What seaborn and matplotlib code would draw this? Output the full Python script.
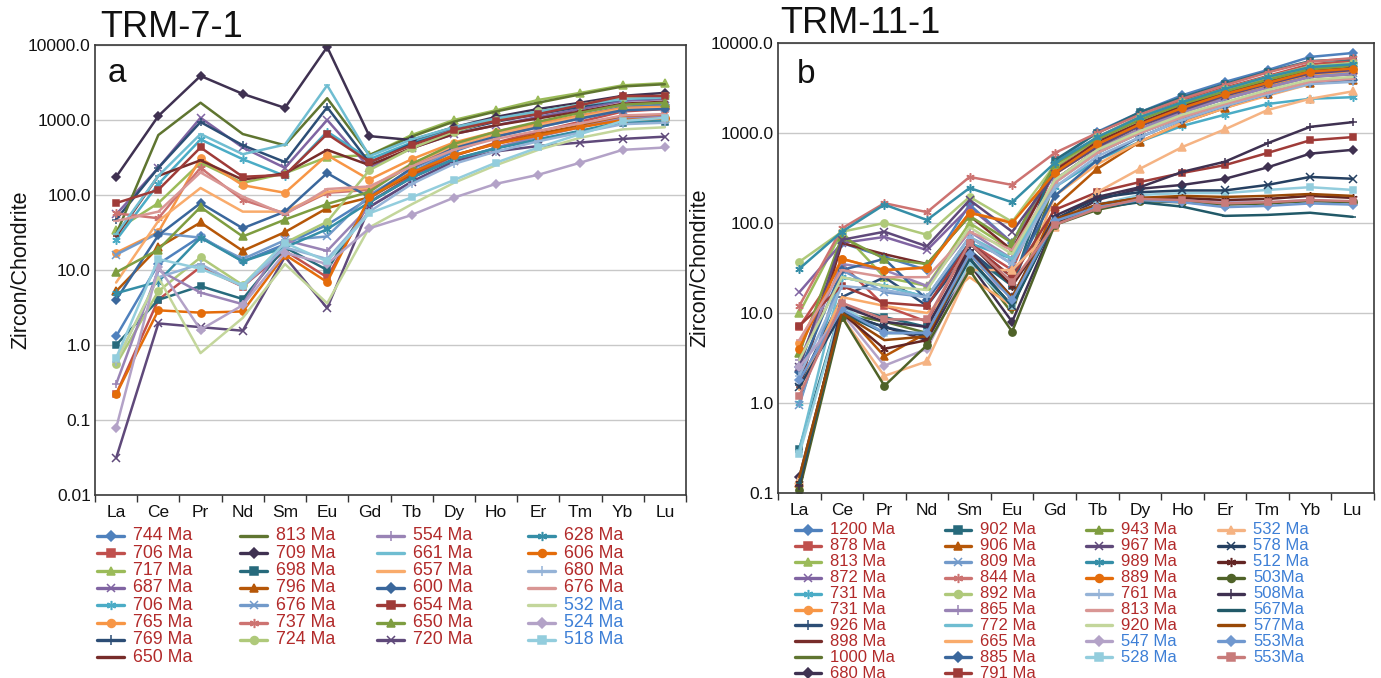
import numpy as np
import matplotlib
matplotlib.use("Agg")
import matplotlib.pyplot as plt
import seaborn as sns
from matplotlib.lines import Line2D
from matplotlib.ticker import NullLocator, FixedLocator

# ---------------- data ----------------
ELEMENTS = ["La", "Ce", "Pr", "Nd", "Sm", "Eu", "Gd", "Tb", "Dy", "Ho", "Er", "Tm", "Yb", "Lu"]

A_TITLE = "TRM-7-1"
A_LABELS = ["744 Ma", "706 Ma", "717 Ma", "687 Ma", "706 Ma", "765 Ma", "769 Ma", "650 Ma",
            "813 Ma", "709 Ma", "698 Ma", "796 Ma", "676 Ma", "737 Ma", "724 Ma",
            "554 Ma", "661 Ma", "657 Ma", "600 Ma", "654 Ma", "650 Ma", "720 Ma",
            "628 Ma", "606 Ma", "680 Ma", "676 Ma", "532 Ma", "524 Ma", "518 Ma"]
A_BLUE_LABELS = [False] * 26 + [True] * 3
A_VALUES = [
    [1.3, 12, 28, 13, 22, 40, 90, 200, 380, 600, 850, 1150, 1500, 1600],
    [0.22, 4, 11, 6, 18, 8, 80, 180, 330, 500, 700, 950, 1300, 1400],
    [34, 78, 270, 145, 195, 320, 340, 630, 1000, 1350, 1850, 2300, 2900, 3100],
    [55, 230, 1070, 430, 230, 1000, 230, 420, 650, 850, 1100, 1400, 1800, 1900],
    [25, 140, 550, 300, 180, 700, 300, 500, 750, 1000, 1250, 1550, 1900, 2000],
    [17, 32, 310, 135, 107, 340, 160, 300, 500, 700, 900, 1150, 1450, 1500],
    [47, 230, 940, 460, 275, 1480, 270, 480, 700, 950, 1200, 1500, 1900, 2000],
    [28, 180, 290, 160, 195, 400, 250, 420, 650, 850, 1050, 1300, 1650, 1750],
    [30, 630, 1700, 650, 460, 1950, 340, 600, 950, 1300, 1700, 2200, 2800, 3000],
    [174, 1130, 3870, 2230, 1450, 9400, 610, 540, 800, 1100, 1400, 1700, 2100, 2300],
    [1.0, 4, 6.1, 4.1, 20, 10, 80, 170, 300, 420, 550, 700, 900, 950],
    [5.2, 20, 43, 18, 32, 67, 93, 190, 340, 480, 650, 850, 1100, 1150],
    [16, 31, 27, 14, 25, 28, 100, 220, 400, 600, 800, 1050, 1350, 1450],
    [57, 49, 230, 86, 57, 107, 117, 250, 450, 650, 850, 1100, 1400, 1450],
    [0.55, 5.2, 14.7, 6.3, 23, 44, 215, 420, 700, 1000, 1300, 1600, 2000, 2100],
    [0.3, 10, 5, 3.5, 25, 18, 70, 150, 280, 430, 600, 800, 1050, 1100],
    [30, 180, 650, 350, 470, 2900, 330, 550, 800, 1050, 1300, 1600, 1900, 2000],
    [6.8, 45, 124, 60, 60, 110, 125, 260, 450, 650, 850, 1100, 1400, 1450],
    [4, 29, 78, 36, 60, 196, 93, 230, 420, 600, 800, 1050, 1350, 1400],
    [78, 117, 430, 175, 185, 650, 275, 460, 735, 970, 1200, 1580, 2090, 2090],
    [9.3, 18.7, 69, 28, 47, 76, 110, 260, 480, 700, 950, 1250, 1600, 1700],
    [0.031, 1.94, 1.73, 1.55, 15, 3.1, 69, 150, 280, 380, 450, 500, 560, 600],
    [4.9, 7, 27, 13, 20, 35, 80, 170, 300, 420, 550, 720, 950, 1000],
    [0.22, 2.9, 2.7, 2.8, 16, 6.9, 93, 200, 340, 480, 620, 800, 1000, 1050],
    [0.6, 8, 12, 6, 20, 14, 60, 140, 260, 380, 520, 680, 880, 920],
    [45, 60, 200, 95, 55, 120, 130, 240, 400, 560, 720, 900, 1150, 1200],
    [0.6, 8, 0.78, 2.3, 12, 3.6, 37, 75, 145, 250, 400, 580, 750, 800],
    [0.078, 11, 1.6, 3.4, 17, 12, 36, 54, 92, 141, 186, 270, 400, 430],
    [0.67, 14, 10.4, 6.2, 23, 13, 57, 93, 158, 270, 430, 650, 970, 1070],
]

B_TITLE = "TRM-11-1"
B_LABELS = ["1200 Ma", "878 Ma", "813 Ma", "872 Ma", "731 Ma", "731 Ma", "926 Ma", "898 Ma",
            "1000 Ma", "680 Ma", "902 Ma", "906 Ma", "809 Ma", "844 Ma", "892 Ma", "865 Ma",
            "772 Ma", "665 Ma", "885 Ma", "791 Ma", "943 Ma", "967 Ma", "989 Ma", "889 Ma",
            "761 Ma", "813 Ma", "920 Ma", "547 Ma", "528 Ma", "532 Ma", "578 Ma", "512 Ma",
            "503Ma", "508Ma", "567Ma", "577Ma", "553Ma", "553Ma"]
B_BLUE_LABELS = [False] * 27 + [True] * 11
B_VALUES = [
    [2.5, 60, 42, 30, 160, 60, 465, 1030, 1700, 2630, 3700, 5000, 7000, 7740],
    [7, 35, 12, 8, 60, 30, 400, 900, 1500, 2300, 3200, 4300, 5800, 6300],
    [10, 80, 25, 20, 100, 50, 420, 850, 1400, 2100, 3000, 4000, 5300, 5800],
    [17, 60, 70, 50, 150, 60, 350, 750, 1200, 1900, 2600, 3500, 4600, 5000],
    [1.0, 25, 20, 15, 60, 40, 250, 500, 800, 1200, 1600, 2100, 2400, 2500],
    [4.6, 40, 30, 32, 130, 103, 350, 700, 1200, 1800, 2500, 3300, 4400, 4800],
    [1.6, 15, 25, 12, 50, 20, 300, 600, 1000, 1500, 2100, 2800, 3700, 4000],
    [1.5, 60, 45, 35, 120, 50, 380, 800, 1300, 2000, 2800, 3700, 4900, 5300],
    [0.12, 10, 8, 6, 40, 10, 300, 650, 1100, 1700, 2400, 3200, 4200, 4500],
    [0.15, 10, 7, 5, 35, 8, 100, 180, 240, 265, 310, 415, 590, 650],
    [0.31, 12, 9, 7, 45, 20, 500, 1000, 1700, 2500, 3500, 4800, 6300, 6600],
    [0.13, 11, 3.3, 6, 40, 12, 150, 400, 800, 1300, 1900, 2700, 3600, 3900],
    [0.95, 30, 17, 15, 70, 35, 300, 650, 1100, 1700, 2400, 3200, 4200, 4600],
    [12, 87, 166, 132, 325, 265, 600, 1000, 1600, 2400, 3400, 4700, 6200, 6800],
    [37, 80, 100, 74, 195, 103, 440, 900, 1500, 2200, 3100, 4200, 5500, 6000],
    [3, 35, 30, 20, 80, 40, 300, 650, 1100, 1700, 2400, 3200, 4200, 4500],
    [0.3, 25, 20, 15, 70, 40, 280, 600, 1000, 1500, 2100, 2800, 3600, 3900],
    [1.4, 15, 12, 10, 25, 12, 200, 450, 800, 1300, 1900, 2600, 3500, 3800],
    [2.2, 30, 40, 14, 60, 25, 200, 500, 900, 1400, 2000, 2700, 3600, 3900],
    [7.2, 20, 13, 12, 60, 25, 140, 220, 285, 360, 440, 600, 830, 900],
    [3.6, 70, 40, 35, 120, 60, 450, 850, 1400, 2100, 2900, 3900, 5100, 5600],
    [2.5, 65, 80, 55, 180, 80, 350, 700, 1200, 1800, 2600, 3500, 4600, 5000],
    [31, 80, 160, 108, 245, 170, 465, 900, 1500, 2200, 3100, 4200, 5400, 5800],
    [4, 40, 30, 32, 130, 100, 360, 750, 1250, 1900, 2700, 3600, 4800, 5200],
    [2.0, 20, 18, 15, 70, 35, 250, 550, 900, 1400, 2000, 2700, 3500, 3700],
    [5, 30, 25, 25, 80, 50, 280, 600, 1000, 1500, 2100, 2800, 3700, 4000],
    [3, 25, 20, 18, 90, 45, 300, 650, 1050, 1600, 2200, 3000, 3900, 4200],
    [2.5, 10, 2.6, 4, 35, 15, 100, 150, 190, 185, 175, 170, 180, 170],
    [0.27, 12, 6, 6, 35, 12, 110, 160, 205, 215, 215, 233, 250, 233],
    [0.14, 9, 2.0, 2.9, 30, 30, 90, 220, 400, 700, 1100, 1800, 2400, 2900],
    [1.5, 10, 7, 5.5, 40, 12, 110, 190, 220, 230, 230, 265, 325, 310],
    [0.13, 10, 4, 5, 60, 20, 100, 160, 190, 190, 180, 185, 200, 190],
    [0.107, 9.1, 1.55, 4.4, 30, 6.2, 95, 140, 175, 170, 160, 165, 175, 170],
    [0.12, 12, 8, 7, 50, 15, 120, 195, 250, 370, 480, 770, 1170, 1320],
    [0.13, 10, 6, 6, 40, 12, 105, 147, 170, 152, 120, 123, 130, 117],
    [0.15, 10, 5, 5.5, 45, 15, 110, 160, 190, 200, 195, 200, 210, 200],
    [1.8, 11, 6, 6, 45, 14, 105, 150, 180, 170, 150, 155, 165, 160],
    [1.2, 13, 8.5, 8.5, 60, 22, 95, 145, 185, 180, 165, 170, 180, 175],
]

# ---------------- style ----------------
SERIES_COLORS = [
    "#4F81BD", "#C0504D", "#9BBB59", "#8064A2", "#4BACC6", "#F79646",
    "#2C4D75", "#772C2A", "#5F7530", "#3F3151", "#276A7C", "#B65708",
    "#729ACA", "#CD7371", "#AFC97A", "#9983B5", "#6FBDD1", "#F9AB6B",
    "#3A679C", "#9F3B38", "#7E9D40", "#5F497A", "#358EA7", "#E46C0A",
    "#95B3D7", "#D99694", "#C3D69B", "#B3A2C7", "#93CDDD", "#F5B383",
    "#254061", "#632523", "#4F6228", "#3F3151", "#215968", "#984807",
    "#7098CF", "#C87B7A",
]
MARKERS = ["D", "s", "^", "x", (6, 2, 0), "o", "+", "_", None]
MSIZE = {"D": 4.3, "s": 4.8, "^": 5.2, "x": 5.2, "o": 5.2, "+": 6, "_": 5}
RED_TEXT = "#B22A2A"
BLUE_TEXT = "#3D7FD6"

W, H = 1381, 678
sns.set_theme(style="white")
plt.rcParams["font.family"] = ["Liberation Sans", "DejaVu Sans"]

fig = plt.figure(figsize=(W / 100, H / 100), dpi=100)


def fx(px):
    return px / W


def fy(py):
    return 1 - py / H


def marker_kws(i, scale=1.0):
    m = MARKERS[i % len(MARKERS)]
    c = SERIES_COLORS[i]
    if m is None:
        return dict(marker="None")
    size = MSIZE.get(m, 6) if not isinstance(m, tuple) else 6
    return dict(marker=m, markersize=size * scale, markeredgecolor=c, markerfacecolor=c,
                markeredgewidth=1.1)


def draw_panel(rect, values, ymin, ylabels_vals, ylabels_txt):
    ax = fig.add_axes(rect)
    x = np.arange(len(ELEMENTS))
    for i, vals in enumerate(values):
        sns.lineplot(x=x, y=vals, ax=ax, color=SERIES_COLORS[i], linewidth=1.8,
                     sort=False, legend=False, errorbar=None, **marker_kws(i))
    ax.set_yscale("log")
    ax.set_ylim(ymin, 10000)
    ax.set_xlim(-0.5, len(ELEMENTS) - 0.5)
    ax.yaxis.set_major_locator(FixedLocator(ylabels_vals))
    ax.set_yticklabels(ylabels_txt)
    ax.yaxis.set_minor_locator(NullLocator())
    ax.tick_params(axis="y", length=0, labelsize=12.5, pad=3, colors="#111111")
    ax.set_xticks(x)
    ax.set_xticklabels(ELEMENTS)
    ax.xaxis.set_minor_locator(FixedLocator(np.arange(-0.5, len(ELEMENTS), 1.0)))
    ax.tick_params(axis="x", which="major", length=0, labelsize=12.5, pad=7, colors="#111111")
    ax.tick_params(axis="x", which="minor", length=5, width=1, direction="out",
                   color="#333333", bottom=True)
    ax.grid(axis="y", which="major", color="#C8C8C8", linewidth=1.0)
    ax.grid(axis="x", visible=False)
    ax.set_axisbelow(True)
    for s in ax.spines.values():
        s.set_visible(True)
        s.set_color("#3a3a3a")
        s.set_linewidth(1.2)
    ax.set_xlabel("")
    ax.set_ylabel("Zircon/Chondrite", fontsize=15.5, color="#111111")
    return ax


ax_a = draw_panel([fx(95), fy(495), fx(686) - fx(95), fy(45) - fy(495)], A_VALUES, 0.01,
                  [0.01, 0.1, 1, 10, 100, 1000, 10000],
                  ["0.01", "0.1", "1.0", "10.0", "100.0", "1000.0", "10000.0"])
ax_a.yaxis.set_label_coords((31 - 95) / 591, 0.5)
ax_b = draw_panel([fx(778), fy(493), fx(1374) - fx(778), fy(43) - fy(493)], B_VALUES, 0.1,
                  [0.1, 1, 10, 100, 1000, 10000],
                  ["0.1", "1.0", "10.0", "100.0", "1000.0", "10000.0"])
ax_b.yaxis.set_label_coords((710 - 778) / 596, 0.5)

ax_a.text(0.022, 0.918, "a", transform=ax_a.transAxes, fontsize=24, color="#111111")
ax_b.text(0.032, 0.911, "b", transform=ax_b.transAxes, fontsize=24, color="#111111")
fig.text(fx(100), fy(37), A_TITLE, fontsize=26, color="#111111", va="baseline")
fig.text(fx(780), fy(33), B_TITLE, fontsize=26, color="#111111", va="baseline")


def draw_legend(labels, blue, col_counts, col_x, y0, dy, hlen, tgap, fsize):
    idx = 0
    for c, n in enumerate(col_counts):
        for r in range(n):
            i = idx
            idx += 1
            y = y0 + r * dy
            x0 = col_x[c]
            xs = [fx(x0), fx(x0 + hlen / 2), fx(x0 + hlen)]
            ys = [fy(y)] * 3
            kw = marker_kws(i, 1.1)
            line = Line2D(xs, ys, transform=fig.transFigure, color=SERIES_COLORS[i],
                          linewidth=2.4, markevery=[1], **kw)
            fig.add_artist(line)
            fig.text(fx(x0 + hlen + tgap), fy(y), labels[i], fontsize=fsize,
                     color=BLUE_TEXT if blue[i] else RED_TEXT, va="center", ha="left")


draw_legend(A_LABELS, A_BLUE_LABELS, [8, 7, 7, 7], [97, 240, 377, 528], 536, 17.3, 27, 9, 12.8)
draw_legend(B_LABELS, B_BLUE_LABELS, [10, 10, 9, 9], [795, 945, 1086, 1218], 530, 15.9, 26, 9, 12)

fig.savefig("out.png", dpi=100)
